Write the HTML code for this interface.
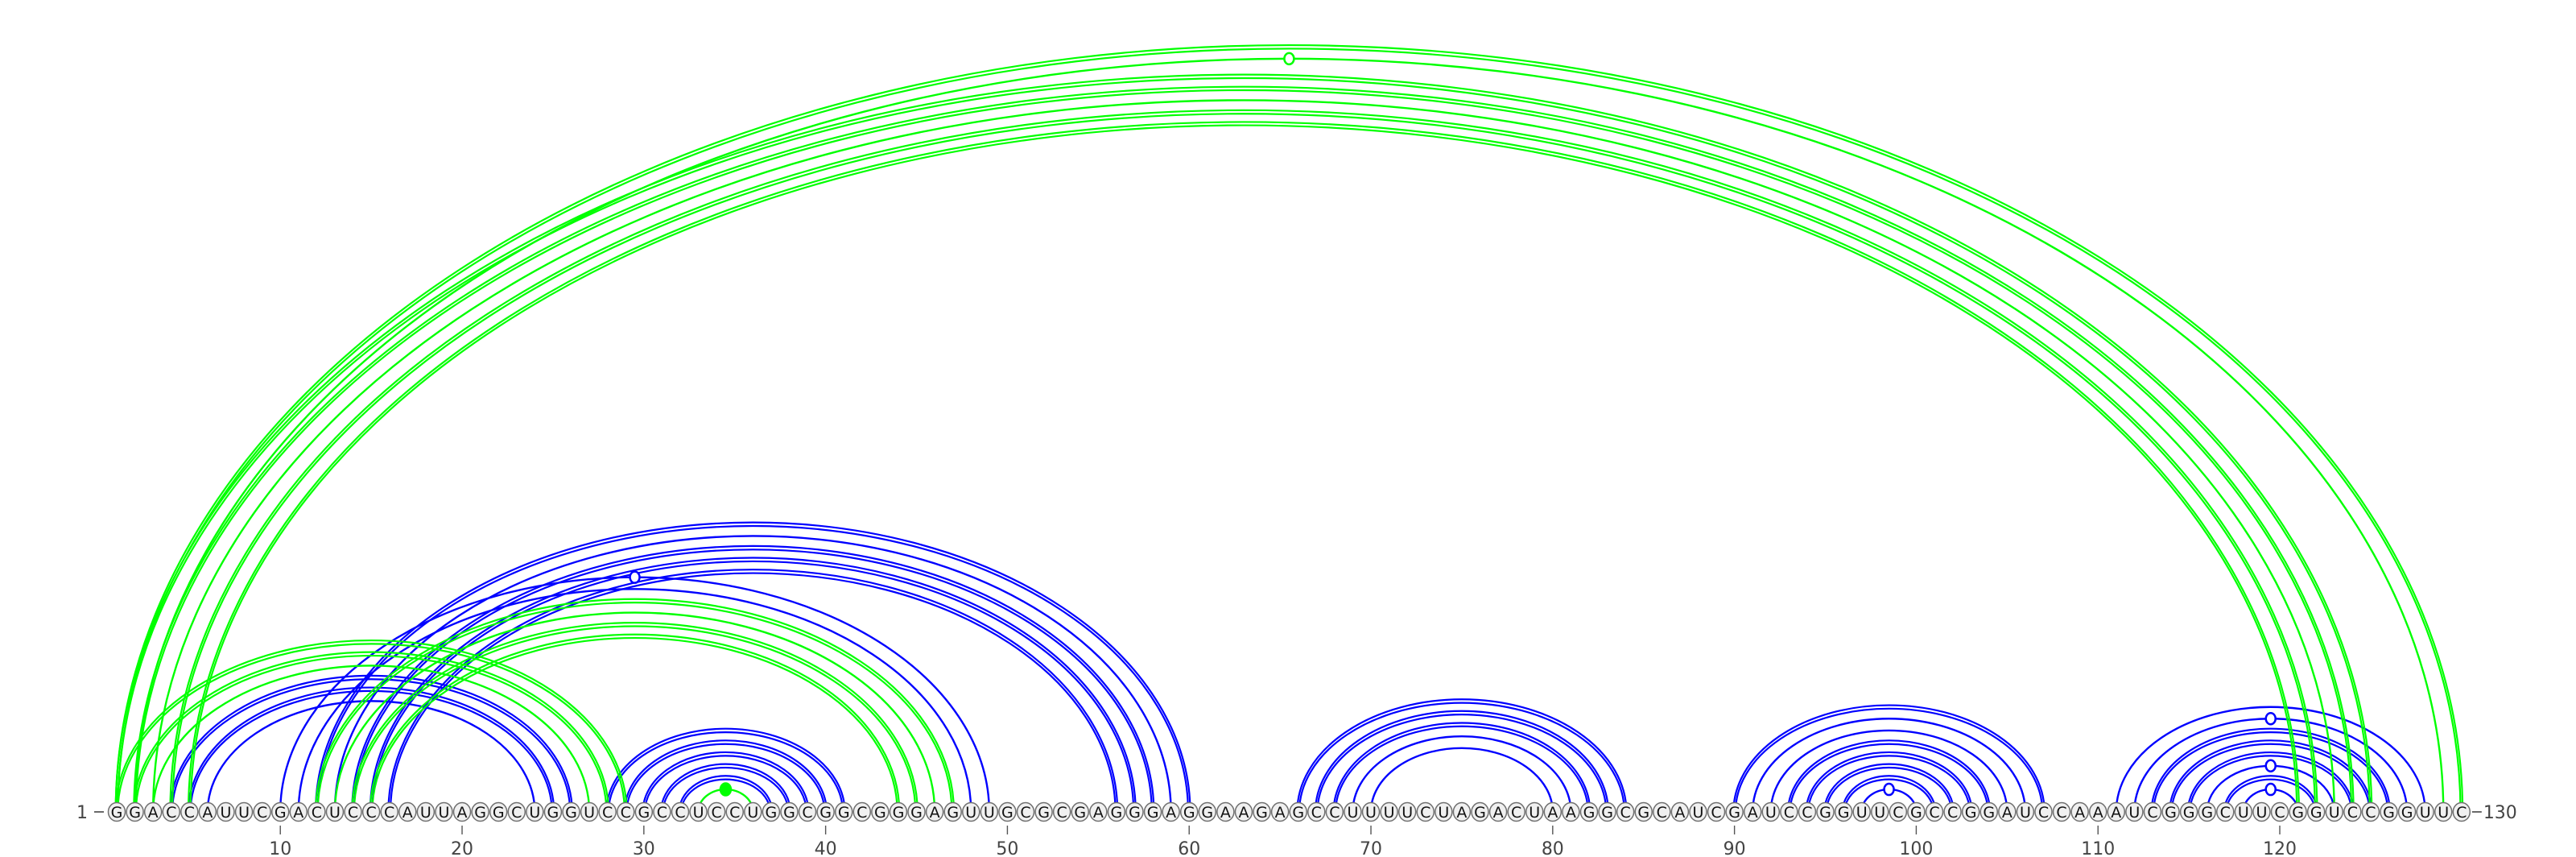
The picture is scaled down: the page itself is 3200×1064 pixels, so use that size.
<!DOCTYPE html>
<html>
<head>
<meta charset="utf-8">
<style>
  html,body{margin:0;padding:0;background:#fff;}
  svg{display:block;}
  .nt{font-family:"DejaVu Sans","Liberation Sans",sans-serif;}
</style>
</head>
<body>
<svg id="chart" xmlns="http://www.w3.org/2000/svg" width="3200" height="1064" viewBox="0 0 3200 1064">
  <g id="arcs-blue"></g>
  <g id="arcs-green"></g>
  <g id="markers"></g>
  <g id="backbone"></g>
  <g id="ticks"></g>
</svg>
<script>
// ---- data ----
const sequence = "GGACCAUUCGACUCCCAUUAGGCUGGUCCGCCUCCUGGCGGCGGGAGUUGCGCGAGGGAGGAAGAGCCUUUUCUAGACUAAGGCGCAUCGAUCCGGUUCGCCGGAUCCAAAUCGGGCUUCGGUCCGGUUC";
const tickPositions = [10,20,30,40,50,60,70,80,90,100,110,120];

const blueI = [4,5,6, 10,11, 12,13,14,15,16, 28,29,30,31,32, 66,67,68,69,70, 90,91,92,93,94,95,96,97, 111,112,113,114,115,116,117,118];
const blueJ = [26,25,24, 49,48, 60,59,58,57,56, 41,40,39,38,37, 84,83,82,81,80, 107,106,105,104,103,102,101,100, 128,127,126,125,124,123,122,121];
const blueDouble = [1,1,0, 0,0, 1,0,1,1,1, 1,1,1,1,1, 1,1,1,0,0, 1,0,0,1,1,1,1,0, 0,0,1,1,1,0,1,0];
const blueMarker = [0,0,0, 1,0, 0,0,0,0,0, 0,0,0,0,0, 0,0,0,0,0, 0,0,0,0,0,0,0,1, 0,1,0,0,0,1,0,1];

const greenI = [1,2,1,2,3,4,5, 1,2,3, 12,13,14,15, 33];
const greenJ = [130,129,125,124,123,122,121, 29,28,27, 47,46,45,44, 36];
const greenDouble = [1,0,1,1,0,1,1, 1,1,0, 1,0,1,1, 0];
const greenMarker = [0,1,0,0,0,0,0, 0,0,0, 0,0,0,0, 2];

// ---- scales ----
const X0 = 145, STEP = 22.58, BASE = 1008;
function xPos(i){ return X0 + (i-1)*STEP; }
function arcHeight(r){ return 0.648*r + 6; }

const NS = "http://www.w3.org/2000/svg";
function mk(tag, attrs, parent){
  const el = document.createElementNS(NS, tag);
  for (const k in attrs) el.setAttribute(k, attrs[k]);
  parent.appendChild(el);
  return el;
}

function arcPath(x1, x2, ry){
  const rx = (x2-x1)/2;
  return "M"+x1+" "+BASE+" A"+rx+" "+ry+" 0 0 1 "+x2+" "+BASE;
}

function drawArcs(I, J, D, M, color, group, name){
  const markers = document.getElementById('markers');
  for (let k=0;k<I.length;k++){
    const x1 = xPos(I[k]), x2 = xPos(J[k]);
    const r = (x2-x1)/2, h = arcHeight(r);
    if (D[k]) {
      const a = mk('path', {d: arcPath(x1-1.3, x2+1.3, h+2.2), fill:'none', stroke:color, 'stroke-width':2.2}, group);
      
      
      const b = mk('path', {d: arcPath(x1+1.3, x2-1.3, h-2.2), fill:'none', stroke:color, 'stroke-width':2.2}, group);
      
      
    } else {
      const a = mk('path', {d: arcPath(x1, x2, h), fill:'none', stroke:color, 'stroke-width':2.4}, group);
      
      
    }
    if (M[k]) {
      const cx = (x1+x2)/2, cy = BASE - h;
      const m = mk('ellipse', {cx:cx, cy:cy, rx:M[k]===2?6.5:6, ry:M[k]===2?7.5:7,
        fill: M[k]===2?color:'#ffffff', stroke:color, 'stroke-width':2.5}, markers);
      
      
    }
  }
}

drawArcs(blueI, blueJ, blueDouble, blueMarker, '#0000ff', document.getElementById('arcs-blue'), 'blue');
drawArcs(greenI, greenJ, greenDouble, greenMarker, '#00ff00', document.getElementById('arcs-green'), 'green');

// ---- backbone nucleotides ----
const bb = document.getElementById('backbone');
for (let i=1;i<=sequence.length;i++){
  const x = xPos(i);
  const c = mk('ellipse', {cx:x, cy:BASE, rx:10.5, ry:11.5, fill:'#f0f0f0', stroke:'#707070', 'stroke-width':1.5}, bb);
  
  
  const t = mk('text', {x:x, y:BASE+7, 'text-anchor':'middle', 'font-size':19, fill:'#111', class:'nt'}, bb);
  
  
  t.textContent = sequence[i-1];
}
// start/end labels
const sl = mk('text', {x:95, y:BASE+8, 'font-size':22, fill:'#444', class:'nt'}, bb);


sl.textContent = "1";
const sd = mk('line', {x1:117, y1:BASE, x2:129, y2:BASE, stroke:'#444', 'stroke-width':1.6}, bb);


const ed = mk('line', {x1:xPos(sequence.length)+13, y1:BASE, x2:xPos(sequence.length)+25, y2:BASE, stroke:'#444', 'stroke-width':1.6}, bb);


const el2 = mk('text', {x:xPos(sequence.length)+27, y:BASE+8, 'font-size':22, fill:'#444', class:'nt'}, bb);


el2.textContent = String(sequence.length);

// ---- ticks ----
const tg = document.getElementById('ticks');
tickPositions.forEach(p=>{
  const x = xPos(p);
  const l = mk('line', {x1:x, y1:1025, x2:x, y2:1036, stroke:'#555', 'stroke-width':1.4}, tg);
  
  
  const t = mk('text', {x:x, y:1061, 'text-anchor':'middle', 'font-size':22, fill:'#444', class:'nt'}, tg);
  
  
  t.textContent = String(p);
});
</script>
</body>
</html>
